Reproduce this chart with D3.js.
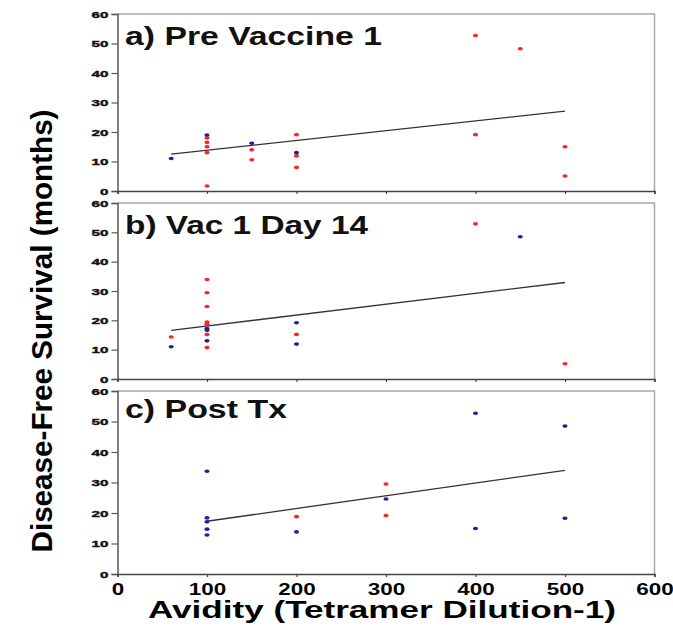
<!DOCTYPE html>
<html>
<head>
<meta charset="utf-8">
<script src="https://cdn.jsdelivr.net/npm/d3@7"></script>
<style>
  body { margin: 0; background: #fff; }
  svg { display: block; }
</style>
</head>
<body>
<div id="chart"></div>
<script>
(function(){

    // points: [avidity, months, group]  r = red, b = blue
    var preVaccine = [
        [60, 11, "b"], [100, 19, "b"], [100, 18, "r"], [100, 16.5, "r"], [100, 15, "r"],
        [100, 13, "r"], [100, 1.7, "r"], [150, 16.2, "b"], [150, 14, "r"], [150, 10.6, "r"],
        [200, 19.1, "r"], [200, 13, "b"], [200, 11.9, "r"], [200, 8, "r"], [400, 52.7, "r"],
        [400, 19.1, "r"], [450, 48.2, "r"], [500, 15, "r"], [500, 5.1, "r"]
    ];
    var day14 = [
        [60, 14.3, "r"], [60, 11, "b"], [100, 33.9, "r"], [100, 29.4, "r"], [100, 24.7, "r"],
        [100, 19.4, "r"], [100, 18.7, "r"], [100, 17.2, "b"], [100, 16.6, "b"], [100, 15.2, "r"],
        [100, 13, "b"], [100, 10.7, "r"], [200, 19.2, "b"], [200, 15.2, "r"], [200, 11.9, "b"],
        [400, 52.9, "r"], [450, 48.5, "b"], [500, 5.2, "r"]
    ];
    var postTx = [
        [100, 33.7, "b"], [100, 18.4, "b"], [100, 17.1, "b"], [100, 14.7, "b"], [100, 12.8, "b"],
        [200, 18.8, "r"], [200, 13.8, "b"], [300, 29.5, "r"], [300, 24.6, "b"], [300, 19.2, "r"],
        [400, 52.7, "b"], [400, 14.9, "b"], [500, 48.5, "b"], [500, 18.3, "b"]
    ];

    // regression line end points
    var fitPre = [[60, 12.5], [500, 27.1]];
    var fitDay14 = [[60, 16.6], [500, 32.9]];
    var fitPost = [[100, 17.3], [500, 34]];

    var titles = ["a) Pre Vaccine 1", "b) Vac 1 Day 14", "c) Post Tx"];
    var xTicks = [0, 100, 200, 300, 400, 500, 600];
    var yTicks = [0, 10, 20, 30, 40, 50, 60];

    var width = 673, height = 630;
    var sans = "Arial, 'Liberation Sans', Helvetica, sans-serif";

    var panels = [
        {pts: preVaccine, fit: fitPre, title: titles[0], top: 14, bottom: 191, tw: 257},
        {pts: day14, fit: fitDay14, title: titles[1], top: 203, bottom: 379, tw: 243},
        {pts: postTx, fit: fitPost, title: titles[2], top: 391, bottom: 574, tw: 162}
    ];

    var colors = {r: "#ff2424", b: "#20209a"};

    var svg = d3.select("#chart").append("svg")
        .attr("width", width)
        .attr("height", height);

    var x = d3.scaleLinear().domain([0, 600]).range([117.5, 654.5]);

    // stretch text sideways like the source image
    function widen(sel, k) {
        sel.each(function() {
            var w = this.getComputedTextLength();
            d3.select(this).attr("textLength", w * k).attr("lengthAdjust", "spacingAndGlyphs");
        });
    }

    panels.forEach(function(p, i) {
        var y = d3.scaleLinear().domain([0, 60]).range([p.bottom, p.top]);
        var g = svg.append("g");

        // frame top + right
        g.append("path")
            .attr("d", "M" + x(0) + "," + y(60) + "H" + x(600) + "V" + y(0))
            .attr("fill", "none")
            .attr("stroke", "#a8a8a8")
            .attr("stroke-width", 1.5);

        var ya = g.append("g")
            .attr("transform", "translate(" + x(0) + ",0)")
            .call(d3.axisLeft(y).tickValues(yTicks).tickSize(6).tickPadding(3));
        ya.select(".domain").attr("stroke", "#555").attr("stroke-width", 1.5);
        ya.selectAll(".tick line").attr("stroke", "#555").attr("stroke-width", 1.2);
        ya.selectAll(".tick text")
            .attr("font-family", sans)
            .attr("font-weight", "bold")
            .attr("font-size", 9.5)
            .attr("fill", "#111")
            .attr("stroke", "#111")
            .attr("stroke-width", 0.4)
            .call(widen, 1.6);

        var xa = g.append("g")
            .attr("transform", "translate(0," + y(0) + ")")
            .call(d3.axisBottom(x).tickValues(xTicks).tickSize(3).tickFormat(""));
        xa.select(".domain").attr("stroke", "#444").attr("stroke-width", 1.5);
        xa.selectAll(".tick line").attr("stroke", "#444").attr("stroke-width", 1.2);

        if (i == 2) {
            xa.selectAll(".tick").append("text")
                .attr("y", 21)
                .attr("text-anchor", "middle")
                .attr("font-family", sans)
                .attr("font-weight", "bold")
                .attr("font-size", 16)
                .attr("fill", "#000")
                .text(function(d) { return d; })
                .call(widen, 1.4);
        }

        // regression line
        g.append("path")
            .attr("d", d3.line().x(function(d) { return x(d[0]); }).y(function(d) { return y(d[1]); })(p.fit))
            .attr("stroke", "#333")
            .attr("stroke-width", 1.3)
            .attr("fill", "none");

        // reds first, blues on top
        var sorted = p.pts.filter(function(d) { return d[2] == "r"; })
            .concat(p.pts.filter(function(d) { return d[2] == "b"; }));
        g.selectAll("ellipse")
            .data(sorted)
            .enter().append("ellipse")
            .attr("cx", function(d) { return x(d[0]); })
            .attr("cy", function(d) { return y(d[1]); })
            .attr("rx", 2.6)
            .attr("ry", 1.8)
            .attr("fill", function(d) { return colors[d[2]]; });

        g.append("text")
            .attr("x", 125)
            .attr("y", y(60) + (i == 2 ? 27 : 31))
            .attr("font-family", sans)
            .attr("font-weight", "bold")
            .attr("font-size", 25)
            .attr("fill", "#111")
            .attr("textLength", p.tw)
            .attr("lengthAdjust", "spacingAndGlyphs")
            .text(p.title);
    });

    svg.append("text")
        .attr("x", 382)
        .attr("y", 618)
        .attr("text-anchor", "middle")
        .attr("font-family", sans)
        .attr("font-weight", "bold")
        .attr("font-size", 23)
        .attr("fill", "#000")
        .attr("textLength", 468)
        .attr("lengthAdjust", "spacingAndGlyphs")
        .text("Avidity (Tetramer Dilution-1)");

    svg.append("text")
        .attr("transform", "translate(52,331) rotate(-90)")
        .attr("text-anchor", "middle")
        .attr("font-family", "'Liberation Sans Narrow', 'Arial Narrow', " + sans)
        .attr("font-weight", "bold")
        .attr("font-size", 30)
        .attr("fill", "#000")
        .attr("textLength", 443)
        .attr("lengthAdjust", "spacingAndGlyphs")
        .text("Disease-Free Survival (months)");

})();
</script>
</body>
</html>
